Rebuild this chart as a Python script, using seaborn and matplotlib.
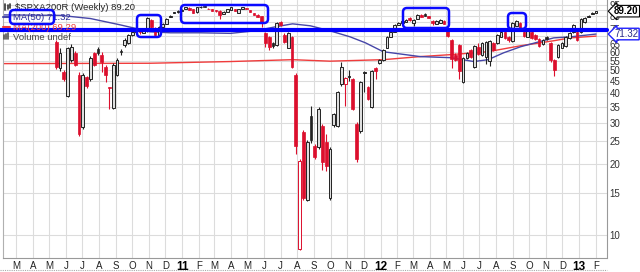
import matplotlib
matplotlib.use("Agg")
import matplotlib.pyplot as plt
import matplotlib.dates as mdates
from matplotlib.patches import FancyBboxPatch
from matplotlib.lines import Line2D
from matplotlib.transforms import IdentityTransform, blended_transform_factory
import numpy as np
import pandas as pd
import seaborn as sns

# ---------------- data (weekly candles, $SPXA200R) ----------------
first_week = "2010-05-14"
opens = [
    66.1, 51.4, 49.0, 38.9, 55.5, 59.4, 48.0, 28.8, 46.7, 45.8,
    59.4, 61.8, 58.3, 51.9, 42.4, 34.6, 48.0, 60.5, 64.2, 65.5,
    70.8, 72.5, 73.4, 72.2, 73.6, 81.9, 75.8, 71.0, 76.5, 78.8,
    84.3, 87.6, 88.3, 89.5, 91.1, 92.0, 91.1, 88.5, 92.5, 93.6,
    91.3, 91.1, 90.0, 89.4, 86.8, 88.5, 90.5, 91.1, 87.6, 91.1,
    92.0, 90.2, 87.6, 86.0, 85.0, 72.2, 69.4, 65.5, 64.2, 80.3,
    70.8, 62.4, 69.4, 48.0, 8.7, 27.4, 14.1, 32.1, 23.9, 23.7,
    29.1, 24.9, 14.4, 29.4, 29.1, 43.6, 43.6, 46.7, 45.8, 29.7,
    27.7, 48.8, 42.4, 35.0, 51.4, 53.9, 55.5, 62.4, 69.4, 72.9,
    78.0, 79.5, 80.5, 83.5, 79.5, 82.7, 86.0, 86.8, 85.1, 81.1,
    78.8, 79.5, 81.1, 74.3, 67.4, 58.3, 64.2, 44.5, 56.6, 61.2,
    51.9, 63.0, 58.3, 57.2, 55.0, 65.5, 65.5, 69.4, 72.9, 69.4,
    66.8, 77.3, 79.5, 72.9, 69.4, 72.9, 71.0, 68.0, 64.8, 69.4,
    65.5, 55.5, 57.2, 62.4, 63.6, 68.7, 72.9, 72.9, 72.9, 80.3,
    84.3, 86.8, 88.0]
highs = [
    67.0, 62.4, 50.0, 63.0, 64.5, 60.5, 49.0, 48.5, 47.5, 57.5,
    60.0, 63.0, 60.0, 52.9, 42.6, 53.5, 56.6, 61.8, 68.7, 71.5,
    73.6, 74.3, 74.0, 75.0, 84.3, 82.7, 76.5, 77.3, 79.5, 83.5,
    86.0, 88.8, 90.0, 91.0, 93.3, 92.5, 91.5, 93.3, 93.5, 94.0,
    91.6, 91.5, 90.3, 89.8, 89.0, 91.5, 93.3, 91.5, 91.5, 93.3,
    92.4, 90.6, 88.0, 86.4, 85.5, 72.9, 70.1, 66.1, 80.3, 81.1,
    72.2, 72.9, 70.1, 48.5, 21.0, 28.0, 25.3, 35.3, 24.4, 34.8,
    29.5, 26.9, 23.7, 33.0, 41.0, 54.5, 46.7, 50.4, 46.5, 30.2,
    45.0, 49.5, 42.8, 50.4, 51.9, 56.0, 61.8, 70.1, 73.4, 78.5,
    80.0, 81.6, 82.4, 84.0, 82.4, 86.5, 86.4, 87.2, 85.5, 81.6,
    81.6, 82.4, 81.6, 74.8, 68.0, 59.0, 65.0, 57.2, 60.0, 61.8,
    64.2, 65.5, 66.1, 66.8, 67.4, 66.1, 71.5, 73.4, 73.4, 69.9,
    80.3, 81.9, 80.0, 73.4, 74.1, 73.4, 71.5, 68.5, 68.0, 70.1,
    66.1, 56.0, 64.8, 66.1, 70.1, 72.9, 78.8, 73.6, 83.5, 84.3,
    85.6, 88.5, 89.6]
lows = [
    50.5, 49.5, 45.0, 38.5, 54.5, 52.0, 26.2, 28.3, 42.0, 45.0,
    52.0, 58.3, 49.0, 44.5, 34.3, 34.3, 47.5, 58.3, 63.0, 65.0,
    70.1, 72.2, 71.5, 71.8, 73.0, 76.0, 70.1, 70.5, 76.0, 78.3,
    84.0, 87.2, 88.0, 89.2, 90.8, 89.8, 87.2, 88.0, 92.0, 93.0,
    90.7, 89.0, 88.8, 82.7, 86.4, 88.2, 90.2, 89.0, 87.2, 90.8,
    91.0, 88.1, 85.6, 83.9, 76.5, 63.0, 61.2, 62.4, 63.6, 77.3,
    65.5, 62.0, 51.0, 22.1, 8.6, 14.0, 13.9, 24.6, 21.0, 23.2,
    18.8, 18.6, 14.1, 28.8, 28.8, 43.0, 35.3, 45.0, 33.8, 20.5,
    27.2, 40.4, 37.3, 34.6, 45.8, 53.4, 55.0, 62.0, 69.0, 72.5,
    77.6, 79.1, 80.1, 81.1, 77.3, 82.3, 83.9, 84.7, 83.1, 78.0,
    78.4, 79.1, 78.4, 69.6, 51.4, 55.0, 45.8, 44.0, 56.0, 56.6,
    51.4, 58.0, 57.8, 53.0, 52.0, 60.6, 65.0, 69.0, 68.2, 66.1,
    66.1, 76.8, 75.3, 69.6, 69.0, 68.2, 67.5, 63.0, 64.2, 67.2,
    54.0, 47.1, 56.6, 62.0, 63.0, 68.2, 72.4, 66.8, 72.4, 79.8,
    83.9, 86.4, 87.6]
closes = [
    51.9, 59.4, 45.8, 62.4, 62.9, 52.9, 26.9, 48.0, 42.8, 56.6,
    52.9, 59.4, 54.5, 48.0, 42.2, 52.9, 55.5, 60.0, 67.4, 70.8,
    72.9, 73.6, 73.0, 74.3, 83.5, 76.5, 70.8, 76.5, 78.8, 82.7,
    85.5, 88.3, 89.5, 90.5, 92.9, 90.2, 87.6, 92.9, 93.1, 93.3,
    91.0, 89.4, 89.2, 86.0, 88.5, 91.1, 92.9, 89.4, 91.1, 92.9,
    91.3, 88.5, 86.0, 84.3, 80.3, 65.5, 63.0, 63.5, 79.5, 78.0,
    66.1, 72.2, 51.9, 23.9, 20.6, 14.4, 24.9, 25.2, 21.5, 34.3,
    20.4, 19.6, 23.2, 32.7, 40.4, 51.9, 46.2, 47.5, 34.3, 21.0,
    44.5, 49.0, 37.8, 49.9, 49.5, 55.5, 61.2, 69.4, 72.9, 78.0,
    79.5, 81.1, 81.9, 81.5, 81.9, 86.0, 84.3, 85.1, 83.5, 79.5,
    81.1, 81.9, 78.8, 70.1, 56.0, 55.5, 49.5, 56.6, 59.4, 57.2,
    63.6, 58.5, 65.5, 66.1, 66.8, 61.2, 70.8, 72.9, 68.7, 67.4,
    79.5, 81.1, 75.8, 70.1, 73.6, 68.7, 68.0, 63.6, 67.4, 67.8,
    55.5, 50.0, 64.2, 65.5, 69.4, 72.2, 78.0, 67.4, 82.7, 83.5,
    85.1, 88.0, 89.2]

ma50_dates = ["2010-02-05", "2010-05-21", "2010-07-16", "2010-09-09", "2010-11-03",
              "2010-12-10", "2011-02-03", "2011-03-31", "2011-05-15", "2011-06-21",
              "2011-07-23", "2011-08-25", "2011-09-30", "2011-11-06", "2011-12-04",
              "2012-01-06", "2012-03-14", "2012-05-09", "2012-06-21", "2012-07-17",
              "2012-08-15", "2012-09-15", "2012-11-15", "2012-12-16", "2013-02-01"]
ma50_values = [86.0, 85.6, 83.0, 78.0, 72.9,
               72.2, 72.2, 71.8, 73.6, 76.5,
               78.8, 77.3, 73.6, 69.4, 65.5,
               60.0, 57.2, 56.6, 54.5, 55.5,
               59.4, 63.0, 68.7, 69.4, 71.32]
ma200_dates = ["2010-02-05", "2010-11-03", "2011-03-31", "2011-07-23", "2011-09-30",
               "2012-01-06", "2012-03-14", "2012-05-09", "2012-07-17", "2012-09-15",
               "2012-11-15", "2012-12-16", "2013-02-01"]
ma200_values = [53.4, 53.6, 54.5, 55.5, 54.7,
                55.5, 57.2, 58.3, 60.0, 63.6,
                66.8, 68.7, 69.9]

month_letters = ["J", "F", "M", "A", "M", "J", "J", "A", "S", "O", "N", "D"]
y_ticks = [10, 15, 20, 25, 30, 35, 40, 45, 50, 55, 60, 65, 70, 75, 80, 85, 90, 95]
y_tick_labels = ["10", "15", "20", "25", "30", "35", "40", "45", "50", "55",
                 "60", "65", "", "75", "", "85", "", "95"]
resistance_level = 74.5
last_close_label = "89.20"
ma50_label = "71.32"

# ---------------- figure ----------------
W, H = 640, 272
sns.set_style("white")
plt.rcParams["font.family"] = ["Liberation Sans", "DejaVu Sans"]
fig = plt.figure(figsize=(W / 100, H / 100), dpi=100)
fig.patch.set_facecolor("white")
ax_l, ax_r, ax_top, ax_bot = 3, 607, 0, 257.7
ax = fig.add_axes([ax_l / W, 1 - ax_bot / H, (ax_r - ax_l) / W, (ax_bot - ax_top) / H])
ax.set_facecolor("white")

n = min(len(opens), len(highs), len(lows), len(closes))
dates = pd.date_range(first_week, periods=n, freq="7D")
xs = mdates.date2num(dates.to_pydatetime())
o = np.array(opens[:n]); h = np.array(highs[:n]); l = np.array(lows[:n]); c = np.array(closes[:n])

ax.set_yscale("log")
ax.set_ylim(8.0, 99.5)
ax.set_xlim(mdates.date2num(pd.Timestamp("2010-02-05")), mdates.date2num(pd.Timestamp("2013-02-21")))

# grid
month_starts = pd.date_range("2010-03-01", "2013-02-01", freq="MS")
for d in month_starts:
    ax.axvline(mdates.date2num(d), color="#dcdcdc", lw=0.8, zorder=0)
for yv in y_ticks:
    ax.axhline(yv, color="#dcdcdc", lw=0.8, zorder=0)

# moving averages
ma50_df = pd.DataFrame({"date": pd.to_datetime(ma50_dates), "v": ma50_values})
ma200_df = pd.DataFrame({"date": pd.to_datetime(ma200_dates), "v": ma200_values})
sns.lineplot(data=ma200_df, x="date", y="v", ax=ax, color="#f03c3c", lw=1.0, zorder=2)
sns.lineplot(data=ma50_df, x="date", y="v", ax=ax, color="#4646a8", lw=1.0, zorder=2)

# candles
RED = "#dc0f2d"
BLK = "#222222"
prev = np.concatenate([[np.inf], c[:-1]])
down_vs_prev = c < prev
up_body = c >= o
width = 5.0
for i in range(n):
    col = RED if down_vs_prev[i] else BLK
    ax.vlines(xs[i], l[i], h[i], color=col, lw=0.8, zorder=3)
    lo, hi = min(o[i], c[i]), max(o[i], c[i])
    hi = max(hi, lo * 1.006)
    if up_body[i]:
        face = "white" if down_vs_prev[i] else "#dedede"
        ax.bar(xs[i], hi - lo, bottom=lo, width=width, color=face, edgecolor=col,
               linewidth=0.7, zorder=4)
    else:
        ax.bar(xs[i], hi - lo, bottom=lo, width=width, color=col, edgecolor=col,
               linewidth=0.5, zorder=4)

# axes styling
ax.set_xlabel(""); ax.set_ylabel("")
ax.yaxis.tick_right()
ax.set_yticks(y_ticks)
ax.set_yticklabels(y_tick_labels)
ax.yaxis.set_minor_locator(matplotlib.ticker.NullLocator())
ax.yaxis.set_minor_formatter(matplotlib.ticker.NullFormatter())
ax.tick_params(axis="y", length=0, pad=2, labelsize=7, labelcolor="#333333")
ax.set_xticks([mdates.date2num(d) for d in month_starts])
xlabels = [(str(d.year % 100) if d.month == 1 else month_letters[d.month - 1]) for d in month_starts]
ax.set_xticklabels(xlabels)
ax.tick_params(axis="x", length=0, pad=2.5, labelsize=7, labelcolor="#222222")
for t, d in zip(ax.get_xticklabels(), month_starts):
    if d.month == 1:
        t.set_fontweight("bold"); t.set_fontsize(8.5); t.set_color("black")
ax.spines["top"].set_visible(False)
ax.spines["left"].set_color("#b0b0b0"); ax.spines["left"].set_linewidth(0.8)
ax.spines["bottom"].set_color("#999999"); ax.spines["bottom"].set_linestyle((0, (1, 1)))
ax.spines["bottom"].set_linewidth(0.8)
ax.spines["right"].set_color("#999999"); ax.spines["right"].set_linestyle((0, (1, 1)))
ax.spines["right"].set_linewidth(0.8)
fig.add_artist(Line2D([0, ax_r / W], [1 - 270 / H, 1 - 270 / H], color="#aaaaaa",
                      lw=0.8, ls=(0, (1, 1)), transform=fig.transFigure))

# resistance line (annotation)
ax.axhline(resistance_level, xmin=-0.006, xmax=1.0, color="#0000ff", lw=3, zorder=6, clip_on=False)

# right value boxes
tr = blended_transform_factory(ax.transAxes, ax.transData)
ax.text(1.012, c[-1], last_close_label, transform=tr, va="center", ha="left", fontsize=7,
        fontweight="bold", color="black", zorder=8,
        bbox=dict(boxstyle="larrow,pad=0.08", fc="white", ec="black", lw=0.8))
ax.text(1.012, ma50_values[-1], ma50_label, transform=tr, va="center", ha="left", fontsize=7,
        color="#2a2a8a", zorder=8,
        bbox=dict(boxstyle="larrow,pad=0.08", fc="white", ec="#2020ff", lw=1.0))

# legend text (top-left)
def fy(py):
    return 1 - py / H

LFS = 6.8
fig.text(15 / W, fy(7), r"\$SPXA200R (Weekly) 89.20", fontsize=LFS, color="#222222", va="center")
for k, xx in enumerate([5, 7.5, 10]):
    fig.add_artist(Line2D([xx / W, xx / W], [fy(10 - k), fy(4 + k % 2)], color="#333333",
                          lw=1.2, transform=fig.transFigure))
fig.add_artist(Line2D([3 / W, 10 / W], [fy(17), fy(17)], color="#4646a8", lw=1.5,
                      transform=fig.transFigure))
fig.text(13 / W, fy(17), "MA(50) 71.32", fontsize=LFS, color="#2a2a9a", va="center")
fig.add_artist(Line2D([3 / W, 10 / W], [fy(27), fy(27)], color="#f03c3c", lw=1.5,
                      transform=fig.transFigure, zorder=1))
fig.text(13 / W, fy(27), "MA(200) 69.29", fontsize=LFS, color="#f03c3c", va="center", zorder=1)
for k, xx in enumerate([4, 6, 8]):
    fig.add_artist(Line2D([xx / W, xx / W], [fy(39), fy(35 - k)], color="#555555",
                          lw=1.2, transform=fig.transFigure))
fig.text(13 / W, fy(37), "Volume undef", fontsize=LFS, color="#444444", va="center")

# hand-drawn rounded boxes
def rbox(x0, y0, x1, y1):
    p = FancyBboxPatch((x0, H - y1), x1 - x0, y1 - y0,
                       boxstyle="round,pad=0,rounding_size=4", fc="none",
                       ec="#0a0aff", lw=1.8, transform=IdentityTransform(), zorder=20)
    fig.add_artist(p)

rbox(10, 10, 54, 24)
rbox(137, 15, 161, 37)
rbox(181, 5, 268, 23)
rbox(403, 8, 449, 28)
rbox(508, 13, 526, 29)

fig.savefig("out.png", dpi=100, facecolor="white")
